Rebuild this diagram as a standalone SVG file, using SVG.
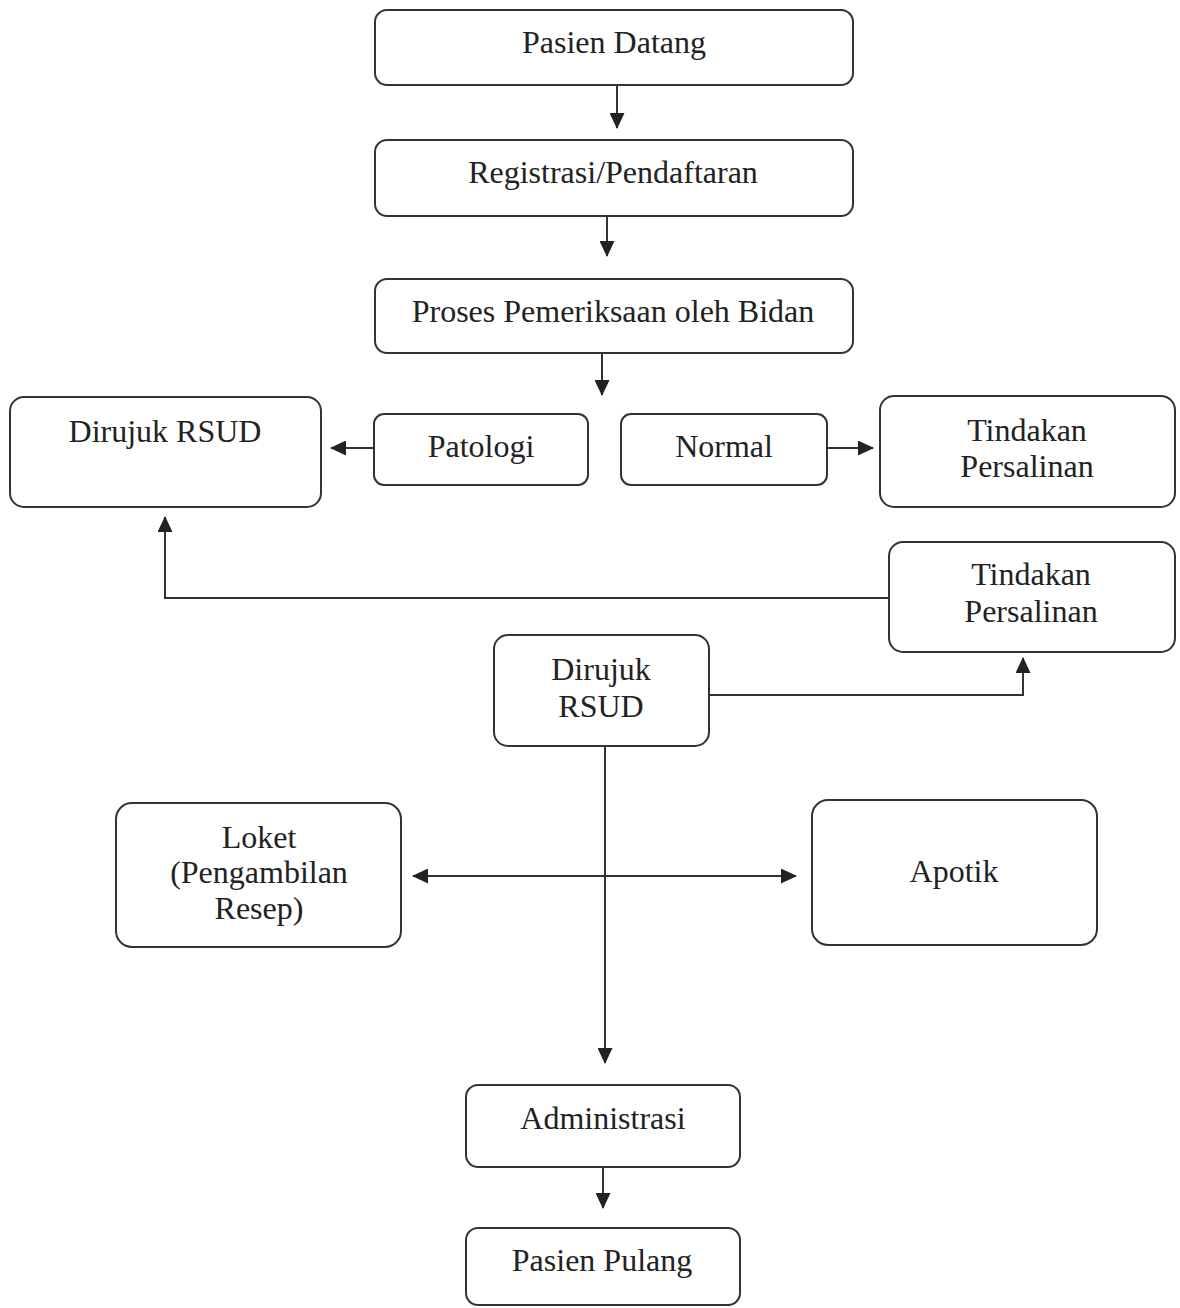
<svg xmlns="http://www.w3.org/2000/svg" width="1180" height="1308" viewBox="0 0 1180 1308">
<defs>
<style>
.box{fill:#fff;stroke:#333;stroke-width:2}
.lbl{font-family:"Liberation Serif","Times New Roman",serif;font-size:32px;fill:#222;text-anchor:middle}
.con{fill:none;stroke:#333;stroke-width:2}
</style>
<marker id="ah" markerUnits="userSpaceOnUse" markerWidth="16" markerHeight="15" viewBox="0 0 16 15" refX="15" refY="7.5" orient="auto-start-reverse">
<path d="M0,0 L16,7.5 L0,15 Z" fill="#222"/>
</marker>
</defs>
<rect width="1180" height="1308" fill="#fff"/>
<g id="connectors">
<path class="con" d="M617,85 V128" marker-end="url(#ah)"/>
<path class="con" d="M607,216 V256" marker-end="url(#ah)"/>
<path class="con" d="M602,353 V395" marker-end="url(#ah)"/>
<path class="con" d="M374,448 H331" marker-end="url(#ah)"/>
<path class="con" d="M827,448 H873" marker-end="url(#ah)"/>
<path class="con" d="M889,598 H165 V517" marker-end="url(#ah)"/>
<path class="con" d="M709,695 H1023 V658" marker-end="url(#ah)"/>
<path class="con" d="M605,746 V1063" marker-end="url(#ah)"/>
<path class="con" d="M413,876 H796" marker-start="url(#ah)" marker-end="url(#ah)"/>
<path class="con" d="M603,1167 V1208" marker-end="url(#ah)"/>
</g>
<g id="n-pasien-datang"><rect class="box" x="375" y="10" width="478" height="75" rx="12"/><text class="lbl" x="614" y="53">Pasien Datang</text></g>
<g id="n-registrasi"><rect class="box" x="375" y="140" width="478" height="76" rx="12"/><text class="lbl" x="613" y="183">Registrasi/Pendaftaran</text></g>
<g id="n-proses"><rect class="box" x="375" y="279" width="478" height="74" rx="12"/><text class="lbl" x="613" y="322">Proses Pemeriksaan oleh Bidan</text></g>
<g id="n-dirujuk-1"><rect class="box" x="10" y="397" width="311" height="110" rx="14"/><text class="lbl" x="165" y="442">Dirujuk RSUD</text></g>
<g id="n-patologi"><rect class="box" x="374" y="414" width="214" height="71" rx="10"/><text class="lbl" x="481" y="457">Patologi</text></g>
<g id="n-normal"><rect class="box" x="621" y="414" width="206" height="71" rx="10"/><text class="lbl" x="724" y="457">Normal</text></g>
<g id="n-tindakan-1"><rect class="box" x="880" y="396" width="295" height="111" rx="14"/><text class="lbl" x="1027" y="441">Tindakan</text><text class="lbl" x="1027" y="477">Persalinan</text></g>
<g id="n-tindakan-2"><rect class="box" x="889" y="542" width="286" height="110" rx="14"/><text class="lbl" x="1031" y="585">Tindakan</text><text class="lbl" x="1031" y="622">Persalinan</text></g>
<g id="n-dirujuk-2"><rect class="box" x="494" y="635" width="215" height="111" rx="14"/><text class="lbl" x="601" y="680">Dirujuk</text><text class="lbl" x="601" y="717">RSUD</text></g>
<g id="n-loket"><rect class="box" x="116" y="803" width="285" height="144" rx="16"/><text class="lbl" x="259" y="848">Loket</text><text class="lbl" x="259" y="883">(Pengambilan</text><text class="lbl" x="259" y="919">Resep)</text></g>
<g id="n-apotik"><rect class="box" x="812" y="800" width="285" height="145" rx="16"/><text class="lbl" x="954" y="882">Apotik</text></g>
<g id="n-administrasi"><rect class="box" x="466" y="1085" width="274" height="82" rx="12"/><text class="lbl" x="603" y="1129">Administrasi</text></g>
<g id="n-pasien-pulang"><rect class="box" x="466" y="1228" width="274" height="77" rx="12"/><text class="lbl" x="602" y="1271">Pasien Pulang</text></g>
</svg>
